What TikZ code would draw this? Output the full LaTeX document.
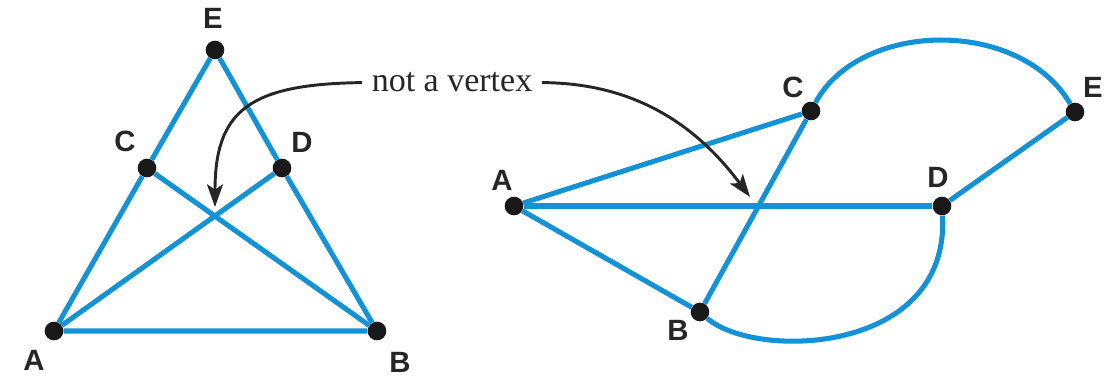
\documentclass[tikz,border=0pt]{standalone}
\usepackage{fontspec}
\setmainfont{Liberation Serif}
\setsansfont{Liberation Sans}
\usetikzlibrary{arrows.meta}
\definecolor{edgeblue}{RGB}{20,146,214}

\begin{document}
\begin{tikzpicture}[
		x=0.75pt, y=-0.75pt,
		vertex/.style={circle, fill=black!90, inner sep=0pt, minimum size=14pt},
		lbl/.style={font=\fontsize{22}{24}\selectfont\sffamily\bfseries, text=black!85},
		edge/.style={draw=edgeblue, line width=3.8pt},
		pointer/.style={draw=black!85, line width=2.2pt, -{Stealth[length=17pt,width=12pt,inset=4pt]}},
		note/.style={font=\fontsize{25.5}{30}\selectfont, text=black!85, inner sep=7pt}
		]
		\useasboundingbox (0,0) rectangle (1110,378);
		
		% Left graph
		\node[vertex] (lE) at (215,50) {};
		\node[vertex] (lC) at (147,168) {};
		\node[vertex] (lD) at (282,168) {};
		\node[vertex] (lA) at (54,331) {};
		\node[vertex] (lB) at (377,331) {};
		
		\draw[edge] (lA) -- (lC) -- (lE) -- (lD) -- (lB) -- (lA);
		\draw[edge] (lA) -- (lD);
		\draw[edge] (lC) -- (lB);
		
		\node[lbl] (lE-lbl) at (213,18) {E};
		\node[lbl] (lC-lbl) at (125,141) {C};
		\node[lbl] (lD-lbl) at (302,142) {D};
		\node[lbl] (lA-lbl) at (34,360) {A};
		\node[lbl] (lB-lbl) at (400,362) {B};
		
		% Right graph
		\node[vertex] (rA) at (514,206) {};
		\node[vertex] (rC) at (811,111) {};
		\node[vertex] (rE) at (1075,112) {};
		\node[vertex] (rD) at (942,206) {};
		\node[vertex] (rB) at (700,312) {};
		
		\draw[edge] (rA) -- (rC);
		\draw[edge] (rA) -- (rD);
		\draw[edge] (rA) -- (rB);
		\draw[edge] (rB) -- (rC);
		\draw[edge] (rD) -- (rE);
		\draw[edge] (rC) .. controls (860,20) and (1020,18) .. (rE);
		\draw[edge] (rB) .. controls (755,360) and (950,355) .. (rD);
		
		\node[lbl] (rA-lbl) at (502,180) {A};
		\node[lbl] (rC-lbl) at (793,87) {C};
		\node[lbl] (rE-lbl) at (1093,87) {E};
		\node[lbl] (rD-lbl) at (938,177) {D};
		\node[lbl] (rB-lbl) at (678,330) {B};
		
		% Crossings that are no vertices
		\node[note, anchor=base] (note) at (452,92) {not a vertex};
		\coordinate (tipL) at (215,207);
		\coordinate (tipR) at (750,197);
		
		\draw[pointer] (note.west) .. controls (250,84) and (215,110) .. (tipL);
		\draw[pointer] (note.east) .. controls (640,83) and (700,130) .. (tipR);
		
	\end{tikzpicture}
\end{document}
